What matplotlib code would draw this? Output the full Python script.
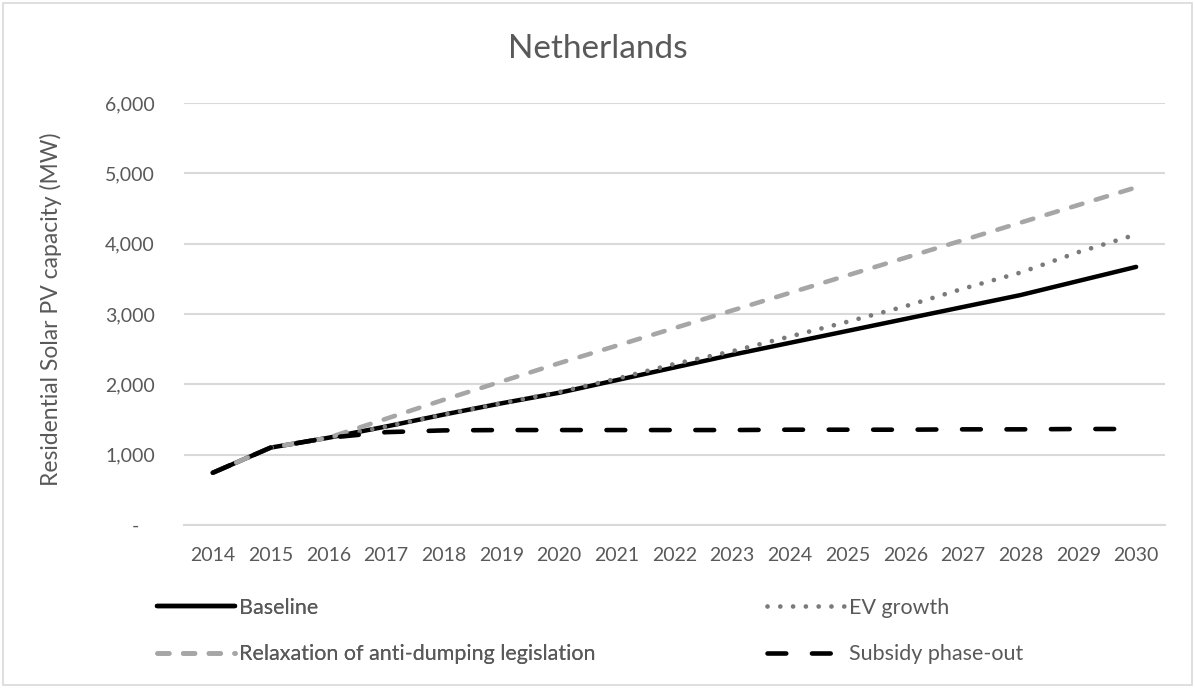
import matplotlib
matplotlib.use("Agg")
import matplotlib.pyplot as plt
from matplotlib.patches import Rectangle

plt.rcParams["font.family"] = ["Lato", "DejaVu Sans"]
plt.rcParams["lines.scale_dashes"] = False

# ---- data -------------------------------------------------------------
years = [str(y) for y in range(2014, 2031)]
baseline = [743, 1100, 1240, 1400, 1570, 1730, 1880, 2060, 2240, 2420,
            2590, 2760, 2930, 3100, 3270, 3470, 3670]
ev_growth = [743, 1100, 1240, 1400, 1570, 1730, 1890, 2080, 2290, 2470,
             2680, 2890, 3110, 3360, 3590, 3880, 4130]
relaxation = [743, 1100, 1240, 1510, 1780, 2040, 2300, 2550, 2800, 3050,
              3300, 3550, 3800, 4050, 4300, 4550, 4800]
subsidy = [743, 1100, 1240, 1320, 1345, 1350, 1350, 1350, 1350, 1350,
           1355, 1355, 1355, 1360, 1360, 1365, 1365]
series_names = ["Baseline", "EV growth",
                "Relaxation of anti-dumping legislation", "Subsidy phase-out"]
y_ticks = [0, 1000, 2000, 3000, 4000, 5000, 6000]
y_tick_labels = ["-   ", "1,000", "2,000", "3,000", "4,000", "5,000", "6,000"]

TEXT = "#595959"
GRID = "#d9d9d9"

W, H = 1195, 688
fig = plt.figure(figsize=(W / 100, H / 100), dpi=100)
fig.patch.set_facecolor("white")

# chart-area border
fig.add_artist(Rectangle((3 / W, 3 / H), (W - 6) / W, (H - 6) / H,
                         transform=fig.transFigure, fill=False,
                         edgecolor=GRID, linewidth=1.2))

ax = fig.add_axes([184 / W, 163 / H, (1165 - 184) / W, (525 - 103) / H])
x = list(range(len(years)))

styles = [
    dict(color="black", lw=3.2, ls="-", solid_capstyle="round"),
    dict(color="#7a7a7a", lw=3.4, ls=(0, (0.01, 9.2)), dash_capstyle="round"),
    dict(color="#a6a6a6", lw=3.3, ls=(0, (8.5, 10.0)), dash_capstyle="round"),
    dict(color="black", lw=3.3, ls=(0, (13.5, 18.5)), dash_capstyle="round"),
]
values = [baseline, ev_growth, relaxation, subsidy]
lines = []
for vals, st, name in zip(values, styles, series_names):
    ln, = ax.plot(x, vals, label=name, **st)
    lines.append(ln)

ax.set_xlim(-0.5, len(years) - 0.5)
ax.set_ylim(0, 6000)
ax.set_xticks(x)
ax.set_xticklabels(years)
ax.set_yticks(y_ticks)
ax.set_yticklabels(y_tick_labels)
ax.tick_params(axis="both", length=0, labelsize=14, labelcolor=TEXT)
ax.tick_params(axis="x", pad=16)
ax.tick_params(axis="y", pad=21)
ax.yaxis.grid(True, color=GRID, linewidth=1.5)
ax.set_axisbelow(True)
for s in ["top", "right", "left"]:
    ax.spines[s].set_visible(False)
ax.spines["bottom"].set_color(GRID)
ax.spines["bottom"].set_linewidth(1.5)

fig.text(0.5, 1 - 49 / H, "Netherlands", ha="center", va="center",
         fontsize=24, color=TEXT)
fig.text(51 / W, 1 - 309 / H, "Residential Solar PV capacity (MW)",
         rotation=90, ha="center", va="center", fontsize=16.5, color=TEXT)

leg_kw = dict(loc="center left", frameon=False, fontsize=15.5,
              labelcolor=TEXT, handlelength=3.6, handletextpad=0.2,
              borderpad=0, borderaxespad=0, labelspacing=1.25)
leg1 = fig.legend([lines[0], lines[2]], [series_names[0], series_names[2]],
                  bbox_to_anchor=(157 / W, 1 - 631 / H), **leg_kw)
fig.add_artist(leg1)
fig.legend([lines[1], lines[3]], [series_names[1], series_names[3]],
           bbox_to_anchor=(767 / W, 1 - 631 / H), **leg_kw)

fig.savefig("out.png", dpi=100, facecolor="white")
